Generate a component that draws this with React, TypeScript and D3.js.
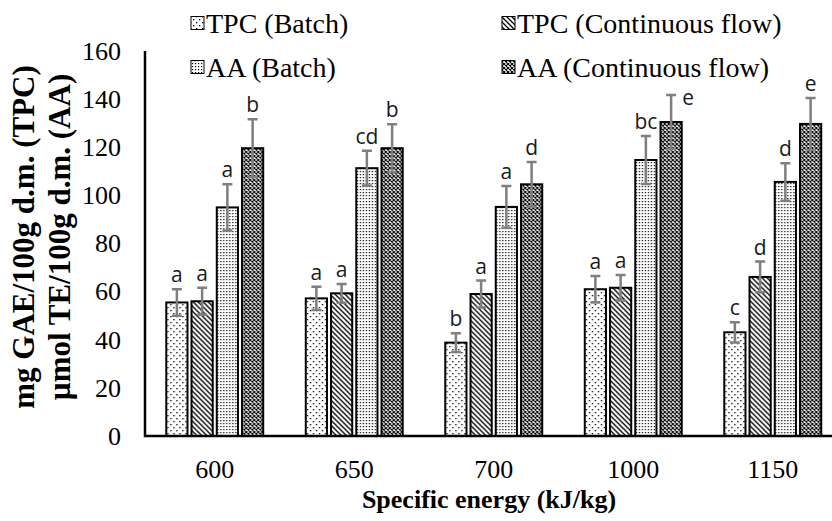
import React, { useEffect, useRef } from "react";
import * as d3 from "d3";

const categories = ["600", "650", "700", "1000", "1150"];
const seriesNames = [
  "TPC (Batch)",
  "TPC (Continuous flow)",
  "AA (Batch)",
  "AA (Continuous flow)",
];
const tpcBatch = [55.5, 57.2, 38.8, 61.0, 43.1];
const tpcCont = [56.0, 59.3, 59.0, 61.6, 66.1];
const aaBatch = [95.0, 111.3, 95.2, 114.7, 105.6];
const aaCont = [119.6, 119.6, 104.6, 130.5, 129.7];
const tpcBatchErr = [5.5, 4.8, 3.9, 5.5, 4.2];
const tpcContErr = [5.6, 3.9, 5.6, 5.3, 6.4];
const aaBatchErr = [9.6, 7.2, 8.7, 10.0, 7.8];
const aaContErr = [12.0, 10.0, 9.3, 11.2, 10.8];
const tpcBatchLetters = ["a", "a", "b", "a", "c"];
const tpcContLetters = ["a", "a", "a", "a", "d"];
const aaBatchLetters = ["a", "cd", "a", "bc", "d"];
const aaContLetters = ["b", "b", "d", "e", "e"];
const yTicks = [0, 20, 40, 60, 80, 100, 120, 140, 160];

const values = [tpcBatch, tpcCont, aaBatch, aaCont];
const errors = [tpcBatchErr, tpcContErr, aaBatchErr, aaContErr];
const letters = [tpcBatchLetters, tpcContLetters, aaBatchLetters, aaContLetters];
const fills = ["url(#dotSparse)", "url(#hatch)", "url(#dotDense)", "url(#diamond)"];

const serif = "'Times New Roman', 'Liberation Serif', serif";

function App() {
  const svgRef = useRef<SVGSVGElement>(null);

  useEffect(() => {
    const svg = d3.select(svgRef.current);
    svg.selectAll("*").remove();

    const width = 832;
    const left = 145;
    const baseY = 436;

    const defs = svg.append("defs");

    const p1 = defs.append("pattern").attr("id", "dotSparse").attr("patternUnits", "userSpaceOnUse")
      .attr("width", 6).attr("height", 6);
    p1.append("rect").attr("width", 6).attr("height", 6).attr("fill", "#fff");
    p1.append("rect").attr("x", 1).attr("y", 1).attr("width", 1.3).attr("height", 1.3).attr("fill", "#000");
    p1.append("rect").attr("x", 4).attr("y", 4).attr("width", 1.3).attr("height", 1.3).attr("fill", "#000");

    const p2 = defs.append("pattern").attr("id", "hatch").attr("patternUnits", "userSpaceOnUse")
      .attr("width", 5).attr("height", 5);
    p2.append("rect").attr("width", 5).attr("height", 5).attr("fill", "#fff");
    p2.append("path").attr("d", "M-1,-1L6,6M-1,4L1,6M4,-1L6,1")
      .attr("stroke", "#000").attr("stroke-width", 1.3);

    const p3 = defs.append("pattern").attr("id", "dotDense").attr("patternUnits", "userSpaceOnUse")
      .attr("width", 3).attr("height", 3);
    p3.append("rect").attr("width", 3).attr("height", 3).attr("fill", "#fff");
    p3.append("rect").attr("width", 1.2).attr("height", 1.2).attr("fill", "#000");

    const p4 = defs.append("pattern").attr("id", "diamond").attr("patternUnits", "userSpaceOnUse")
      .attr("width", 4).attr("height", 4);
    p4.append("rect").attr("width", 4).attr("height", 4).attr("fill", "#fff");
    p4.append("path").attr("d", "M0,0L4,4M4,0L0,4")
      .attr("stroke", "#000").attr("stroke-width", 1.1);

    const x0 = d3.scaleBand().domain(categories).range([left, 842.5])
      .paddingInner(0.305).paddingOuter(0.1525);
    const x1 = d3.scaleBand().domain(seriesNames).range([0, x0.bandwidth()]).paddingInner(0.16);
    const y = d3.scaleLinear().domain([0, 160]).range([baseY, 51]);

    // y tick labels
    svg.append("g").selectAll("text").data(yTicks).enter().append("text")
      .attr("x", 121).attr("y", d => y(d)).attr("dy", "0.34em")
      .attr("text-anchor", "end")
      .style("font-family", serif)
      .style("font-size", "26px")
      .text(d => d);

    // x tick labels
    svg.append("g").selectAll("text").data(categories).enter().append("text")
      .attr("x", d => (x0(d) as number) + x0.bandwidth() / 2).attr("y", 478)
      .attr("text-anchor", "middle")
      .style("font-family", serif)
      .style("font-size", "26px")
      .text(d => d);

    // bars
    const groups = svg.append("g").selectAll("g").data(categories).enter().append("g")
      .attr("transform", d => `translate(${x0(d)},0)`);

    seriesNames.forEach((s, si) => {
      groups.append("rect")
        .attr("x", x1(s) as number)
        .attr("width", x1.bandwidth())
        .attr("y", (_, i) => y(values[si][i]))
        .attr("height", (_, i) => baseY - y(values[si][i]))
        .attr("fill", fills[si])
        .attr("stroke", "#000")
        .attr("stroke-width", 2);
    });

    // error bars
    seriesNames.forEach((s, si) => {
      const cx = (x1(s) as number) + x1.bandwidth() / 2;
      groups.append("path")
        .attr("d", (_, i) => {
          const hi = y(values[si][i] + errors[si][i]);
          const lo = y(values[si][i] - errors[si][i]);
          return `M${cx},${hi}V${lo}M${cx - 5},${hi}H${cx + 5}M${cx - 5},${lo}H${cx + 5}`;
        })
        .attr("fill", "none")
        .attr("stroke", "#7f7f7f")
        .attr("stroke-width", 2.5);
    });

    // significance letters (the 1000 / AA continuous one sits beside its bar)
    seriesNames.forEach((s, si) => {
      const cx = (x1(s) as number) + x1.bandwidth() / 2;
      const beside = (d: string) => d === "1000" && si === 3;
      groups.append("text")
        .attr("x", d => (beside(d) ? cx + 17 : cx))
        .attr("y", (d, i) => {
          const top = y(values[si][i] + errors[si][i]);
          return beside(d) ? top + 10 : top - 7;
        })
        .attr("text-anchor", "middle")
        .style("font-family", "'Open Sans', 'DejaVu Sans', sans-serif")
        .style("font-size", "21px")
        .attr("fill", "#1a1a1a")
        .text((_, i) => letters[si][i]);
    });

    // axes lines
    svg.append("path").attr("d", `M${left},${y(160)}V${baseY}H${width}`)
      .attr("fill", "none").attr("stroke", "#000").attr("stroke-width", 2.5);

    // y title
    const yt = svg.append("text")
      .attr("transform", `translate(0,237) rotate(-90)`)
      .attr("text-anchor", "middle")
      .style("font-family", serif)
      .style("font-size", "31px")
      .style("font-weight", "bold");
    yt.append("tspan").attr("x", 0).attr("y", 34).text("mg GAE/100g d.m. (TPC)");
    yt.append("tspan").attr("x", 0).attr("y", 70).text("µmol TE/100g d.m. (AA)");

    // x title
    svg.append("text").attr("x", 489).attr("y", 508)
      .attr("text-anchor", "middle")
      .style("font-family", serif)
      .style("font-size", "26px")
      .style("font-weight", "bold")
      .text("Specific energy (kJ/kg)");

    // legend
    const legendPos = [
      [191, 23],
      [502, 23],
      [191, 67],
      [502, 67],
    ];
    seriesNames.forEach((s, si) => {
      const [lx, ly] = legendPos[si];
      svg.append("rect").attr("x", lx).attr("y", ly - 6.5).attr("width", 13).attr("height", 13)
        .attr("fill", fills[si]).attr("stroke", "#000").attr("stroke-width", 1);
      svg.append("text").attr("x", lx + 15).attr("y", ly + 9.5)
        .style("font-family", serif)
        .style("font-size", "28px")
        .text(s);
    });
  }, []);

  return (
    <svg
      ref={svgRef}
      width={832}
      height={521}
      style={{ position: "absolute", left: 0, top: 0, background: "#fff" }}
    />
  );
}

export default App;
